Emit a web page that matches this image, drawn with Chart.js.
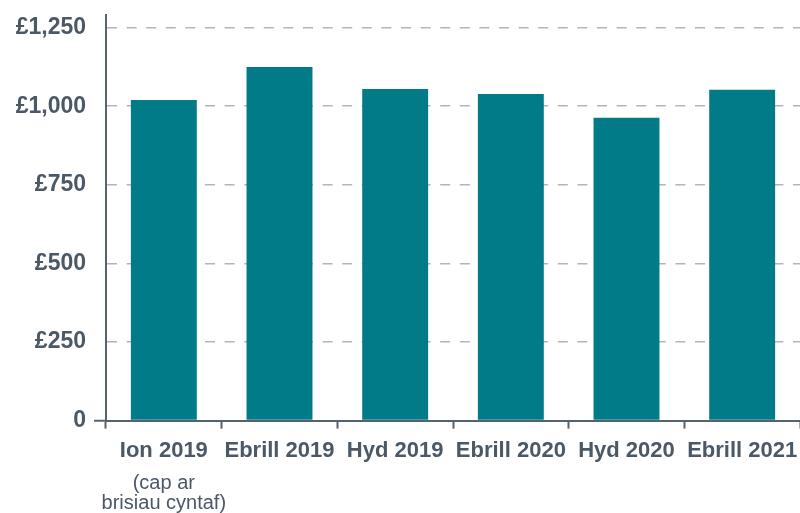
<!DOCTYPE html>
<html>
<head>
<meta charset="utf-8">
<script src="https://cdn.jsdelivr.net/npm/chart.js@4.4.1/dist/chart.umd.min.js"></script>
<style>
  html, body { margin: 0; padding: 0; background: #fff; }
  #wrap { width: 800px; height: 513px; }
</style>
</head>
<body>
<div id="wrap"><canvas id="chart" width="800" height="513"></canvas></div>
<script>
// Price cap level per period (GBP), Welsh labels
var CATEGORIES = ["Ion 2019", "Ebrill 2019", "Hyd 2019", "Ebrill 2020", "Hyd 2020", "Ebrill 2021"];
var VALUES     = [1020, 1125, 1055, 1039, 963, 1052];
var FIRST_NOTE = ["(cap ar", "brisiau cyntaf)"];
var Y_TICKS    = [0, 250, 500, 750, 1000, 1250];
var Y_MAX      = 1290;

var TEAL  = "#027b88";
var SLATE = "#4b5866";
var AXIS  = "#56626e";
var DASH  = "#b1b6bc";
var FONT  = "'Liberation Sans', Arial, sans-serif";

function poundLabel(v) {
  if (v === 0) return "0";
  return "£" + String(v).replace(/\B(?=(\d{3})+(?!\d))/g, ",");
}

// second/third line under the first category, regular weight
var notePlugin = {
  id: "firstNote",
  afterDraw: function(chart) {
    var ctx = chart.ctx;
    var x = chart.scales.x.getPixelForValue(0);
    var y = chart.chartArea.bottom + 63;
    ctx.save();
    ctx.fillStyle = SLATE;
    ctx.font = "20px " + FONT;
    ctx.textAlign = "center";
    ctx.textBaseline = "middle";
    FIRST_NOTE.forEach(function(line, i) { ctx.fillText(line, x, y + i * 20); });
    ctx.restore();
  }
};

new Chart(document.getElementById("chart"), {
  type: "bar",
  data: {
    labels: CATEGORIES,
    datasets: [{
      data:               VALUES,
      backgroundColor:    TEAL,
      borderWidth:        0,
      barPercentage:      0.57,
      categoryPercentage: 1.0,
    }],
  },
  options: {
    responsive: false,
    animation:  false,
    layout: { padding: { top: 15, bottom: 40, left: 0, right: 0 } },
    plugins: {
      legend:  { display: false },
      tooltip: { enabled: false },
    },
    scales: {
      x: {
        offset: true,
        afterFit: function(axis) { axis.paddingLeft = 0; axis.paddingRight = 0; },
        grid: {
          offset: true,
          drawOnChartArea: false,
          tickLength: 8,
          tickWidth:  2,
          tickColor:  AXIS,
        },
        border: { color: AXIS, width: 2 },
        ticks: {
          color: SLATE,
          font: { family: FONT, size: 22, weight: "bold" },
          padding: 9,
          maxRotation: 0,
          autoSkip: false,
        },
      },
      y: {
        min: 0,
        max: Y_MAX,
        afterBuildTicks: function(axis) {
          axis.ticks = Y_TICKS.map(function(v) { return { value: v }; });
        },
        afterFit: function(axis) {
          axis.width = 106;
          axis.paddingTop = 0;
          axis.paddingBottom = 0;
        },
        grid: {
          lineWidth:  1.5,
          tickLength: 12,
          tickWidth:  2,
          color: function(c) { return c.tick && c.tick.value === 0 ? "rgba(0,0,0,0)" : DASH; },
          tickColor: function(c) { return c.tick && c.tick.value === 0 ? AXIS : "rgba(0,0,0,0)"; },
        },
        border: { color: AXIS, width: 2, dash: [10, 9.6] },
        ticks: {
          color: SLATE,
          font: { family: FONT, size: 23, weight: "bold" },
          padding: 8,
          callback: function(v) { return poundLabel(v); },
        },
      },
    },
  },
  plugins: [notePlugin],
});
</script>
</body>
</html>
